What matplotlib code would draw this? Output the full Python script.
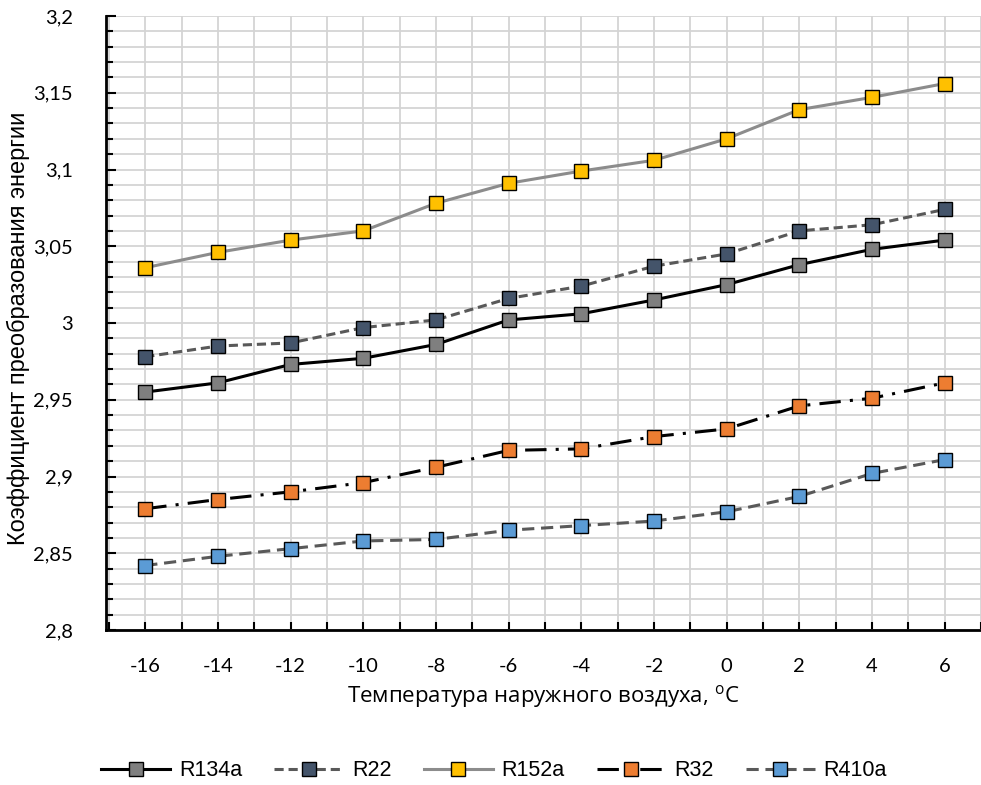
import numpy as np
import matplotlib
matplotlib.use("Agg")
import matplotlib.pyplot as plt
from matplotlib.ticker import MultipleLocator, FixedLocator

# data
temps = ["-16", "-14", "-12", "-10", "-8", "-6", "-4", "-2", "0", "2", "4", "6"]
r134a = [2.955, 2.961, 2.973, 2.977, 2.986, 3.002, 3.006, 3.015, 3.025, 3.038, 3.048, 3.054]
r22 = [2.978, 2.985, 2.987, 2.997, 3.002, 3.016, 3.024, 3.037, 3.045, 3.060, 3.064, 3.074]
r152a = [3.036, 3.046, 3.054, 3.060, 3.078, 3.091, 3.099, 3.106, 3.120, 3.139, 3.147, 3.156]
r32 = [2.879, 2.885, 2.890, 2.896, 2.906, 2.917, 2.918, 2.926, 2.931, 2.946, 2.951, 2.961]
r410a = [2.842, 2.848, 2.853, 2.858, 2.859, 2.865, 2.868, 2.871, 2.877, 2.887, 2.902, 2.911]

tick_font = ["Lato", "DejaVu Sans"]
label_font = ["Open Sans", "DejaVu Sans"]
arial = ["Liberation Sans", "DejaVu Sans"]

fig = plt.figure(figsize=(9.81, 7.85), dpi=100)
ax = fig.add_axes([106 / 981, 1 - 630 / 785, 1 - 106 / 981, (630 - 16) / 785])

x = np.arange(len(temps))

# series: (values, name, line colour, linestyle, marker colour)
series = [
    (r134a, "R134a", "black", "-", "#7f7f7f"),
    (r22, "R22", "#595959", (0, (3, 1.6)), "#44546a"),
    (r152a, "R152a", "#8c8c8c", "-", "#ffc000"),
    (r32, "R32", "black", (0, (7, 3, 1, 3)), "#ed7d31"),
    (r410a, "R410a", "#595959", (0, (4, 2.2)), "#5b9bd5"),
]
for vals, name, lc, ls, mc in series:
    ax.plot(x, vals, color=lc, linestyle=ls, linewidth=2.2, marker="s",
            markersize=9.5, markerfacecolor=mc, markeredgecolor="black",
            markeredgewidth=1.0, label=name, zorder=3)

ax.set_xlim(-0.54, 11.5)
ax.set_ylim(2.8, 3.2)

ax.xaxis.set_major_locator(FixedLocator(x))
ax.xaxis.set_minor_locator(FixedLocator(np.arange(-0.5, 12, 1.0)))
ax.set_xticklabels(temps)
ax.yaxis.set_major_locator(MultipleLocator(0.05))
ax.yaxis.set_minor_locator(MultipleLocator(0.01))
ax.set_yticklabels([("%g" % v).replace(".", ",") for v in ax.get_yticks()])

ax.grid(True, which="both", color="#d4d4d4", linewidth=1.3, zorder=0)
ax.set_axisbelow(True)

for s in ["top", "right"]:
    ax.spines[s].set_visible(False)
for s in ["left", "bottom"]:
    ax.spines[s].set_linewidth(2)
    ax.spines[s].set_color("black")

ax.tick_params(axis="y", which="major", direction="in", length=7, width=1.5, pad=24)
ax.tick_params(axis="y", which="minor", direction="in", length=5, width=1.5)
ax.tick_params(axis="x", which="both", direction="in", length=6, width=1.5, pad=20)
for lab in ax.get_xticklabels() + ax.get_yticklabels():
    lab.set_family(tick_font)
    lab.set_fontsize(14.5)

fig.text(543 / 981, 1 - 697 / 785, "Температура наружного воздуха, $^{\\mathregular{o}}$C",
         ha="center", va="center", fontsize=16, family=label_font)
fig.text(18 / 981, 1 - 328 / 785, "Коэффициент преобразования энергии",
         ha="center", va="center", rotation=90, fontsize=17, family=arial)

fig.legend(loc="center", bbox_to_anchor=(494 / 981, 1 - 771 / 785), ncol=5, frameon=False,
           handlelength=3.2, columnspacing=1.5, handletextpad=0.4,
           prop={"family": arial, "size": 15.5})

fig.savefig("out.png", dpi=100)
